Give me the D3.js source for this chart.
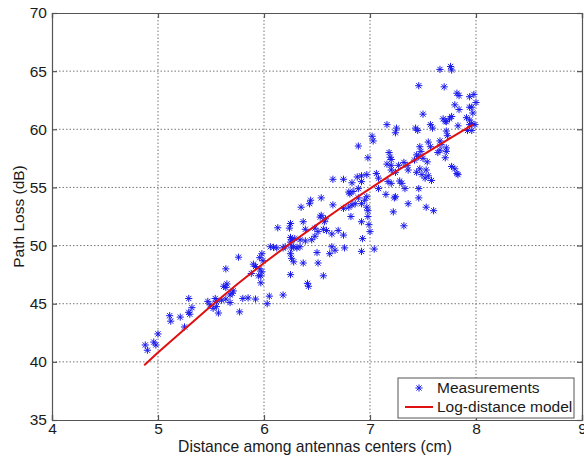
<!DOCTYPE html>
<html><head><meta charset="utf-8">
<script src="https://cdn.jsdelivr.net/npm/d3@7"></script>
<style>body{margin:0;background:#fff}svg{display:block}text{font-family:"Liberation Sans",Arial,sans-serif;fill:#1a1a1a}</style>
</head><body><svg id="c" width="584" height="459"></svg>
<script>
const xTicks=[4,5,6,7,8,9];
const yTicks=[35,40,45,50,55,60,65,70];
const xLabel="Distance among antennas centers (cm)";
const yLabel="Path Loss (dB)";
const legendLabels=["Measurements","Log-distance model"];
const measX=[4.88,4.90,4.96,4.98,5.00,5.11,5.12,5.21,5.25,5.29,5.29,5.32,5.30,5.47,5.54,5.55,5.57,
5.52,5.49,5.55,5.60,5.68,5.80,5.85,5.92,6.05,6.18,6.03,5.77,
5.62,5.65,5.64,5.70,5.68,5.64,5.76,5.64,5.71,
5.88,5.95,5.97,5.97,5.90,5.92,5.98,5.96,5.99,6.06,6.09,6.12,6.18,6.20,6.13,6.24,6.25,6.25,6.25,6.26,6.26,6.25,5.96,5.98,
6.89,6.65,6.75,6.83,6.80,6.81,6.84,6.89,6.88,6.54,6.44,6.43,6.35,6.65,6.75,6.80,6.83,6.86,6.82,6.37,6.54,6.53,6.58,6.57,6.39,6.48,6.51,6.56,6.59,6.64,6.70,6.75,6.29,6.26,6.34,6.39,6.45,6.48,6.28,6.31,6.34,6.64,6.67,6.76,6.25,6.28,6.50,6.62,6.37,6.51,6.56,6.41,6.42,
7.16,7.25,7.24,7.43,7.45,7.02,7.03,6.98,7.18,7.19,7.20,7.16,7.20,7.27,7.32,7.35,7.42,6.92,6.97,7.06,7.08,7.20,7.24,7.36,7.44,7.17,7.20,7.28,7.30,7.08,7.33,7.46,6.92,6.89,6.95,6.97,6.92,7.15,7.24,6.97,6.98,7.22,7.36,7.46,6.92,6.98,6.99,7.00,7.32,6.93,6.92,7.04,
7.66,7.76,7.77,7.46,7.70,7.82,7.84,7.98,8.00,7.96,7.97,7.80,7.84,7.50,7.69,7.71,7.72,7.75,7.77,7.91,7.94,7.96,7.99,7.94,7.96,7.57,7.59,7.83,7.72,7.73,7.55,7.57,7.66,7.67,7.72,7.72,7.47,7.48,7.44,7.46,7.50,7.54,7.66,7.64,7.71,7.77,7.80,7.82,7.83,7.47,7.49,7.53,7.55,7.58,7.52,7.53,7.60,7.23,7.94,7.94,7.92];
const measY=[41.45,41.0,41.7,41.45,42.4,43.97,43.5,43.85,43.0,45.45,44.26,44.66,44.1,45.2,45.45,44.75,44.2,
44.6,44.9,45.2,45.3,45.1,45.45,45.5,45.4,45.65,45.75,45.0,44.3,
46.5,46.7,46.4,45.9,45.75,48.0,49.0,45.4,46.1,
47.6,47.4,47.4,46.8,48.4,48.2,49.3,48.96,48.7,49.9,49.85,49.8,49.8,49.9,51.53,51.5,51.9,50.7,50.3,49.8,48.9,47.5,48.0,47.75,
58.56,55.7,55.7,55.4,54.6,54.45,54.65,54.9,55.9,54.1,53.9,53.6,53.3,53.5,53.2,53.3,53.5,53.6,52.5,52.05,52.6,52.45,52.3,52.05,51.4,51.5,51.2,51.4,51.3,51.0,51.3,50.9,50.6,50.5,50.5,50.4,50.5,50.8,49.9,49.8,49.9,49.9,49.6,49.8,49.3,48.6,49.4,49.3,48.5,48.5,47.4,46.75,46.5,
60.4,60.1,59.7,60.1,59.9,59.4,59.0,57.55,58.0,57.6,57.4,57.0,56.9,56.9,57.15,56.9,57.35,56.0,56.1,56.2,55.8,56.5,56.3,56.5,56.3,55.5,55.35,55.55,55.35,54.9,54.9,54.9,55.5,54.1,53.9,54.2,53.6,54.4,54.2,53.3,53.0,52.9,53.6,54.1,52.05,52.5,51.8,51.2,51.7,50.6,49.5,49.7,
65.15,65.4,65.1,63.75,63.65,63.1,62.9,63.0,62.3,61.9,61.4,62.1,61.7,61.3,60.9,60.7,60.65,60.9,61.1,61.0,60.8,60.5,60.4,60.4,59.9,60.4,60.1,60.3,59.85,59.45,58.9,58.5,59.0,58.7,58.4,58.1,58.5,58.1,57.8,57.65,57.5,57.2,58.2,58.0,57.55,56.8,56.6,56.2,56.1,56.6,56.1,56.5,56.0,55.6,55.8,53.3,53.0,54.1,62.8,61.9,59.9];
const modelX=[4.87,5.0,5.25,5.5,5.75,6.0,6.25,6.5,6.75,7.0,7.25,7.5,7.75,7.97];
const modelY=[39.7,40.8,42.8,44.8,46.7,48.5,50.2,51.8,53.4,54.9,56.4,57.8,59.2,60.4];

const svg=d3.select("#c");
const L=52,R=582,T=13,B=420;
const x=d3.scaleLinear().domain([4,9]).range([L,R]);
const y=d3.scaleLinear().domain([35,70]).range([B,T]);
const axisCol="#555";

// grid
const g=svg.append("g");
g.selectAll(".gx").data(xTicks.slice(1,-1)).join("line")
 .attr("x1",d=>x(d)).attr("x2",d=>x(d)).attr("y1",T).attr("y2",B)
 .attr("stroke","#777").attr("stroke-width",1).attr("stroke-dasharray","1.5,2");
g.selectAll(".gy").data(yTicks.slice(1,-1)).join("line")
 .attr("y1",d=>y(d)).attr("y2",d=>y(d)).attr("x1",L).attr("x2",R)
 .attr("stroke","#777").attr("stroke-width",1).attr("stroke-dasharray","1.5,2");

// axes
const ax=d3.axisBottom(x).tickValues(xTicks).tickSize(-5).tickPadding(3).tickFormat(d3.format("d"));
const ay=d3.axisLeft(y).tickValues(yTicks).tickSize(-5).tickPadding(5).tickFormat(d3.format("d"));
const ax2=d3.axisTop(x).tickValues(xTicks).tickSize(-5).tickFormat("");
const ay2=d3.axisRight(y).tickValues(yTicks).tickSize(-5).tickFormat("");
function style(sel){sel.selectAll("path,line").attr("stroke",axisCol).attr("stroke-width",1.2);sel.selectAll("text").attr("font-size",15.5).attr("fill","#1a1a1a").attr("font-family","Liberation Sans, Arial, sans-serif");}
svg.append("g").attr("transform",`translate(0,${B})`).call(ax).call(style);
svg.append("g").attr("transform",`translate(${L},0)`).call(ay).call(style);
svg.append("g").attr("transform",`translate(0,${T})`).call(ax2).call(style);
svg.append("g").attr("transform",`translate(${R},0)`).call(ay2).call(style);
svg.selectAll(".domain").attr("stroke",axisCol);

// asterisk marker
const r=3.6,rd=r*0.72;
const star=`M${-r},0L${r},0M0,${-r}L0,${r}M${-rd},${-rd}L${rd},${rd}M${-rd},${rd}L${rd},${-rd}`;
const pts=measX.map((v,i)=>[v,measY[i]]);
svg.append("g").selectAll("path").data(pts).join("path")
 .attr("d",star).attr("transform",d=>`translate(${x(d[0])},${y(d[1])})`)
 .attr("stroke","#1a1aee").attr("stroke-width",1).attr("fill","none");

// model line
const line=d3.line().x(d=>x(d[0])).y(d=>y(d[1]));
svg.append("path").datum(modelX.map((v,i)=>[v,modelY[i]])).attr("d",line)
 .attr("fill","none").attr("stroke","#e01010").attr("stroke-width",2);

// labels
svg.append("text").attr("x",315).attr("y",452).attr("text-anchor","middle").attr("font-size",15.7).text(xLabel);
svg.append("text").attr("transform",`translate(24,${(T+B)/2}) rotate(-90)`).attr("text-anchor","middle").attr("font-size",15.5).text(yLabel);

// legend
const lg=svg.append("g");
lg.append("rect").attr("x",398).attr("y",378).attr("width",176).attr("height",40).attr("fill","#fff").attr("stroke",axisCol).attr("stroke-width",1);
lg.append("path").attr("d",star).attr("transform","translate(419,388)").attr("stroke","#1a1aee").attr("fill","none").attr("stroke-width",1);
lg.append("line").attr("x1",405).attr("x2",433).attr("y1",407).attr("y2",407).attr("stroke","#e01010").attr("stroke-width",2);
lg.selectAll("text").data(legendLabels).join("text").attr("x",437).attr("y",(d,i)=>393+i*19).attr("font-size",15.5).text(d=>d);
</script></body></html>
